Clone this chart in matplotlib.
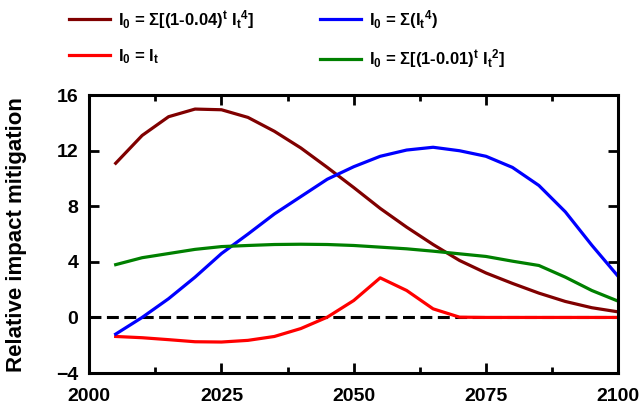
import matplotlib
matplotlib.use("Agg")
from matplotlib import pyplot as plt
from matplotlib.ticker import MultipleLocator
import numpy as np

plt.rcParams['font.family'] = ['Liberation Sans', 'DejaVu Sans']
plt.rcParams['font.weight'] = 'bold'
plt.rcParams['mathtext.fontset'] = 'custom'
plt.rcParams['mathtext.rm'] = 'Liberation Sans:bold'
plt.rcParams['mathtext.it'] = 'Liberation Sans:bold'
plt.rcParams['mathtext.bf'] = 'Liberation Sans:bold'

years = list(range(2005, 2101, 5))

# I0 = sum[(1-0.04)^t It^4]
disc04 = [11.1, 13.1, 14.45, 15.0, 14.95, 14.4, 13.4, 12.2, 10.8, 9.35,
          7.85, 6.5, 5.25, 4.1, 3.2, 2.45, 1.75, 1.15, 0.7, 0.4]
# I0 = It
inst = [-1.37, -1.46, -1.6, -1.75, -1.77, -1.65, -1.37, -0.8, 0.02, 1.22,
        2.85, 1.94, 0.62, 0.02, 0.0, 0.0, 0.0, 0.0, 0.0, 0.0]
# I0 = sum(It^4)
cum4 = [-1.2, 0.0, 1.35, 2.9, 4.6, 6.0, 7.45, 8.7, 9.95, 10.85,
        11.6, 12.05, 12.25, 12.0, 11.6, 10.8, 9.5, 7.6, 5.2, 2.95]
# I0 = sum[(1-0.01)^t It^2]
disc01 = [3.8, 4.3, 4.6, 4.9, 5.1, 5.18, 5.25, 5.27, 5.25, 5.18,
          5.06, 4.94, 4.77, 4.58, 4.39, 4.05, 3.74, 2.9, 1.94, 1.17]

labels = [r"I$_0$ = Σ[(1-0.04)$^t$ I$_t$$^4$]",
          r"I$_0$ = I$_t$",
          r"I$_0$ = Σ(I$_t$$^4$)",
          r"I$_0$ = Σ[(1-0.01)$^t$ I$_t$$^2$]"]
colors = ['#800000', '#ff0000', '#0000ff', '#008000']

fig = plt.figure(figsize=(6.42, 4.05), dpi=100)
ax = fig.add_axes([0.139, 0.079, 0.824, 0.686])

ax.plot([2000, 2100], [0, 0], color='black', lw=2.2, ls=(0, (3.9, 1.8)), zorder=1)
for series, lab, c in zip([disc04, inst, cum4, disc01], labels, colors):
    ax.plot(years, series, color=c, lw=2.3, label=lab, zorder=2)

ax.set_xlim(2000, 2100)
ax.set_ylim(-4, 16)
ax.xaxis.set_major_locator(MultipleLocator(25))
ax.xaxis.set_minor_locator(MultipleLocator(12.5))
ax.yaxis.set_major_locator(MultipleLocator(4))
ax.tick_params(which='both', direction='in', top=True, right=True, width=2,
               labelsize=14)
ax.tick_params(axis='x', pad=11)
ax.tick_params(axis='y', pad=8)
ax.tick_params(which='major', length=7)
ax.tick_params(which='minor', length=4.5)
for s in ax.spines.values():
    s.set_linewidth(2.2)
for t in ax.get_xticklabels() + ax.get_yticklabels():
    t.set_fontweight('bold')
ax.set_ylabel("Relative impact mitigation", fontsize=16, fontweight='bold')
ax.yaxis.set_label_coords(-0.118, 0.5)

fig.legend(loc='upper left', bbox_to_anchor=(0.084, 1.018), ncol=2, frameon=False,
           fontsize=12, handlelength=2.46, columnspacing=3.9, labelspacing=1.0,
           handletextpad=0.5)

fig.savefig("out.png", dpi=100)
